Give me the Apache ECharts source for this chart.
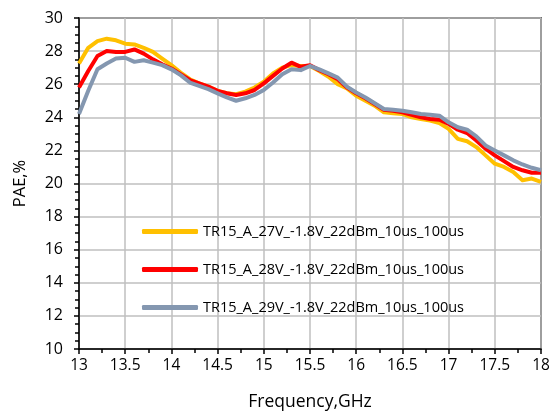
<!DOCTYPE html>
<html>
<head>
<meta charset="utf-8">
<script src="https://cdn.jsdelivr.net/npm/echarts@6/dist/echarts.min.js"></script>
<style>html,body{margin:0;padding:0;background:#fff}#c{width:560px;height:412px}</style>
</head>
<body>
<div id="c"></div>
<script>
const freq = [13.0,13.1,13.2,13.3,13.4,13.5,13.6,13.7,13.8,13.9,14.0,14.1,14.2,14.3,14.4,14.5,14.6,14.7,14.8,14.9,15.0,15.1,15.2,15.3,15.4,15.5,15.6,15.7,15.8,15.9,16.0,16.1,16.2,16.3,16.4,16.5,16.6,16.7,16.8,16.9,17.0,17.1,17.2,17.3,17.4,17.5,17.6,17.7,17.8,17.9,18.0];
const seriesNames = ['TR15_A_27V_-1.8V_22dBm_10us_100us','TR15_A_28V_-1.8V_22dBm_10us_100us','TR15_A_29V_-1.8V_22dBm_10us_100us'];
const pae27 = [27.25,28.2,28.6,28.75,28.65,28.45,28.4,28.2,27.95,27.55,27.15,26.7,26.3,26.05,25.85,25.6,25.45,25.4,25.55,25.8,26.15,26.65,27.0,27.15,27.1,27.1,26.8,26.45,26.0,25.75,25.3,25.0,24.7,24.3,24.25,24.2,24.0,23.9,23.8,23.65,23.3,22.7,22.55,22.2,21.7,21.2,21.0,20.7,20.2,20.3,20.1];
const pae28 = [25.8,26.8,27.7,28.0,27.95,27.95,28.1,27.85,27.5,27.2,26.95,26.6,26.25,26.05,25.85,25.6,25.45,25.35,25.45,25.65,26.05,26.5,26.95,27.3,27.05,27.15,26.85,26.6,26.3,25.8,25.45,25.15,24.8,24.45,24.4,24.3,24.15,24.0,23.9,23.85,23.6,23.25,23.05,22.6,22.1,21.7,21.35,21.0,20.8,20.65,20.65];
const pae29 = [24.2,25.6,26.9,27.25,27.55,27.6,27.35,27.45,27.3,27.15,26.9,26.55,26.1,25.9,25.7,25.45,25.2,25.0,25.15,25.35,25.65,26.1,26.6,26.9,26.85,27.1,26.9,26.65,26.4,25.85,25.5,25.2,24.85,24.5,24.45,24.4,24.3,24.2,24.15,24.1,23.7,23.4,23.25,22.85,22.3,22.0,21.7,21.4,21.15,20.95,20.8];
const colors = ['#FFC000','#FF0000','#8497B0'];
const allData = [pae27, pae28, pae29];

const font = 'Open Sans';
const chart = echarts.init(document.getElementById('c'), null, {renderer:'canvas'});
chart.setOption({
  animation: false,
  backgroundColor: '#fff',
  grid: {left: 79, right: 19, top: 18, bottom: 63, containLabel: false, outerBoundsMode: 'none', show: true, borderColor: '#000', borderWidth: 1.5, backgroundColor: 'transparent'},
  legend: {
    orient: 'vertical', left: 137, top: 219, itemGap: 23,
    itemWidth: 56, itemHeight: 5, icon: 'roundRect',
    textStyle: {fontFamily: font, fontSize: 14.5, color: '#000'},
    data: seriesNames.map((n,i)=>({name:n, icon:'roundRect'}))
  },
  xAxis: {
    type: 'value', min: 13, max: 18, interval: 0.5,
    name: 'Frequency,GHz', nameLocation: 'middle', nameGap: 44,
    nameTextStyle: {fontFamily: font, fontSize: 17.5, color: '#000'},
    axisLine: {lineStyle: {color: '#000', width: 1.5}},
    axisTick: {show: true, length: 5, lineStyle: {color: '#000', width: 1.5}},
    minorTick: {show: true, splitNumber: 2, length: 4, lineStyle: {color: '#000', width: 1.5}},
    splitLine: {show: true, lineStyle: {color: '#BFBFBF', width: 1.5}},
    axisLabel: {fontFamily: font, fontSize: 15.5, color: '#000', margin: 9, formatter: v => String(v)}
  },
  yAxis: {
    type: 'value', min: 10, max: 30, interval: 2,
    name: 'PAE,%', nameLocation: 'middle', nameGap: 50, nameRotate: 90,
    nameTextStyle: {fontFamily: font, fontSize: 16.5, color: '#000'},
    axisLine: {show: true, lineStyle: {color: '#000', width: 1.5}},
    axisTick: {show: true, length: 5, lineStyle: {color: '#000', width: 1.5}},
    minorTick: {show: true, splitNumber: 4, length: 4, lineStyle: {color: '#000', width: 1.5}},
    splitLine: {show: true, lineStyle: {color: '#BFBFBF', width: 1.5}},
    axisLabel: {fontFamily: font, fontSize: 16, color: '#000', margin: 16}
  },
  series: allData.map((d,i)=>({
    name: seriesNames[i], type: 'line', showSymbol: false, symbol: 'none',
    data: freq.map((f,j)=>[f, d[j]]),
    lineStyle: {color: colors[i], width: 4, join: 'round'},
    itemStyle: {color: colors[i]}
  }))
});
</script>
</body>
</html>
